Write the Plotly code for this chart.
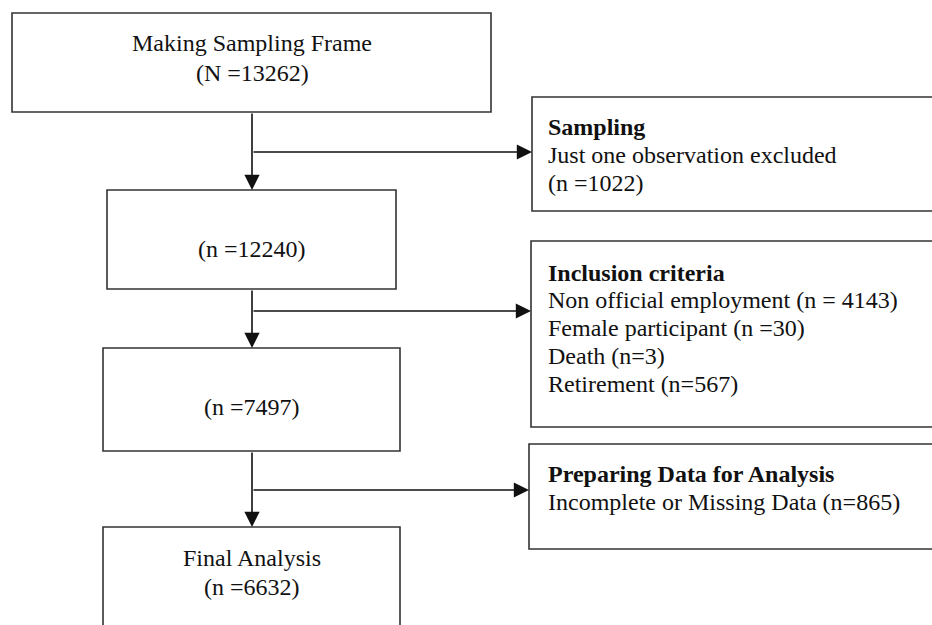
import plotly.graph_objects as go

# ---- content ----
stage_titles = ["Making Sampling Frame", "", "", "Final Analysis"]
stage_counts = ["(N =13262)", "(n =12240)", "(n =7497)", "(n =6632)"]
excl_titles = ["Sampling", "Inclusion criteria", "Preparing Data for Analysis"]
excl_lines = [
    ["Just one observation excluded", "(n =1022)"],
    ["Non official employment (n = 4143)", "Female participant (n =30)",
     "Death (n=3)", "Retirement (n=567)"],
    ["Incomplete or Missing Data (n=865)"],
]

# ---- layout geometry (pixels, y downward) ----
W, H = 932, 625
main_x = 252
stage_boxes = [(12, 491, 13, 112), (107, 396, 190, 289), (103, 400, 348, 451), (103, 400, 527, 680)]
stage_text_y = [[43, 73], [249], [407], [558, 587]]
excl_boxes = [(532, 960, 97, 211), (531, 960, 241, 427), (529, 960, 444, 549)]
excl_text_x = 546
excl_text_y = [[127, 155, 183], [273, 300, 328, 356, 384], [474, 502]]
branch_y = [152, 311, 490]

FONT = "Liberation Serif"
FS = 24
TXT = "#111111"
LINE = "#333333"

fig = go.Figure()
shapes = []
ann = []

for (x0, x1, y0, y1) in stage_boxes + excl_boxes:
    shapes.append(dict(type="rect", xref="x", yref="y", x0=x0, x1=x1, y0=y0, y1=y1,
                       line=dict(color=LINE, width=1.6), fillcolor="rgba(0,0,0,0)", layer="above"))

for i, (title, count) in enumerate(zip(stage_titles, stage_counts)):
    lines = [t for t in (title, count) if t]
    for txt, yy in zip(lines, stage_text_y[i]):
        ann.append(dict(x=main_x, y=yy, xref="x", yref="y", text=txt, showarrow=False,
                        xanchor="center", yanchor="middle",
                        font=dict(family=FONT, size=FS, color=TXT)))

for i, title in enumerate(excl_titles):
    lines = ["<b>" + title + "</b>"] + excl_lines[i]
    for txt, yy in zip(lines, excl_text_y[i]):
        ann.append(dict(x=excl_text_x, y=yy, xref="x", yref="y", text=txt, showarrow=False,
                        xanchor="left", yanchor="middle",
                        font=dict(family=FONT, size=FS, color=TXT)))

arrow_style = dict(showarrow=True, arrowhead=2, arrowsize=1.9, arrowwidth=1.6,
                   arrowcolor="#111111", text="", axref="x", ayref="y", xref="x", yref="y")

# vertical arrows between stage boxes
for k in range(len(stage_boxes) - 1):
    y_from = stage_boxes[k][3]
    y_to = stage_boxes[k + 1][2]
    ann.append(dict(x=main_x, y=y_to, ax=main_x, ay=y_from, **arrow_style))

# branch arrows to exclusion boxes
for k, yb in enumerate(branch_y):
    ann.append(dict(x=excl_boxes[k][0], y=yb, ax=main_x, ay=yb, **arrow_style))

fig.update_layout(
    width=W, height=H, margin=dict(l=0, r=0, t=0, b=0),
    paper_bgcolor="white", plot_bgcolor="white",
    xaxis=dict(range=[0, W], visible=False, fixedrange=True),
    yaxis=dict(range=[H, 0], visible=False, fixedrange=True),
    shapes=shapes, annotations=ann, showlegend=False,
)

fig.write_html("out.html", config={"displayModeBar": False},
               post_script="document.body.style.margin='0px';document.body.style.overflow='hidden';")
